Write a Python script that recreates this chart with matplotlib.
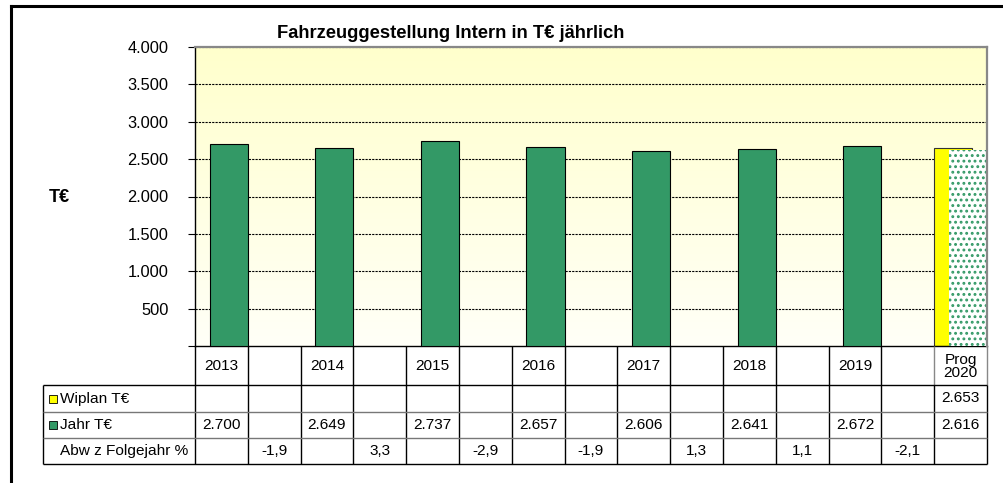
import numpy as np
import matplotlib
matplotlib.use("Agg")
import matplotlib.pyplot as plt
from matplotlib.lines import Line2D
from matplotlib.patches import Rectangle

plt.rcParams['font.family'] = ['Liberation Sans', 'DejaVu Sans']
plt.rcParams['hatch.linewidth'] = 1.3

# Daten: Jahre mit Zwischenspalten fuer die Abweichung
kategorien = ['2013', '', '2014', '', '2015', '', '2016', '', '2017', '', '2018', '', '2019', '', 'Prog\n2020']
wiplan = [None] * 14 + [2653]
jahr = [2700, None, 2649, None, 2737, None, 2657, None, 2606, None, 2641, None, 2672, None, 2616]
abw = [None, -1.9, None, 3.3, None, -2.9, None, -1.9, None, 1.3, None, 1.1, None, -2.1, None]
y_ticks = [0, 500, 1000, 1500, 2000, 2500, 3000, 3500, 4000]

GRUEN = '#339966'
GELB = '#FFFF00'


def de_int(v):
    return f"{v:,.0f}".replace(',', '.')


def de_dec(v):
    return f"{v:.1f}".replace('.', ',')


W, H = 1004, 483
fig = plt.figure(figsize=(W / 100, H / 100), dpi=100)

# Zeichenflaeche in Pixeln
px_l, px_r, px_t, px_b = 195, 987, 47, 346
ax = fig.add_axes([px_l / W, 1 - px_b / H, (px_r - px_l) / W, (px_b - px_t) / H])
n = len(kategorien)
ax.set_xlim(0, n)
ax.set_ylim(0, 4000)

# Hintergrund: Verlauf hellgelb -> weiss
grad = np.linspace(0, 1, 256).reshape(-1, 1)
farben = np.zeros((256, 1, 3))
farben[..., 0] = 1.0
farben[..., 1] = 1.0
farben[..., 2] = 0.80 + 0.17 * grad
ax.imshow(farben, extent=[0, n, 0, 4000], aspect='auto', origin='upper', zorder=0)

for y in y_ticks[1:]:
    ax.axhline(y, color='black', lw=0.8, ls=(0, (2, 1)), zorder=1)

# Balken
bw = 0.725
for i, v in enumerate(wiplan):
    if v is not None:
        ax.bar(i + 0.0, v, width=bw, align='edge', color=GELB, edgecolor='#333333', lw=0.8, zorder=2)
for i, v in enumerate(jahr):
    if v is None:
        continue
    if i == len(jahr) - 1:
        # Prognose gepunktet
        ax.bar(i + 0.275, v, width=bw, align='edge', color='white', edgecolor=GRUEN,
               hatch='...', lw=0, zorder=3)
    else:
        ax.bar(i + 0.275, v, width=bw, align='edge', color=GRUEN, edgecolor='black', lw=0.8, zorder=3)

ax.set_yticks(y_ticks)
ax.set_yticklabels([''] + [de_int(t) for t in y_ticks[1:]], fontsize=11.8)
ax.tick_params(axis='y', direction='out', length=5, width=0.8, pad=14)
ax.set_xticks([])
for s in ['top', 'right']:
    ax.spines[s].set_color('#888888')
    ax.spines[s].set_linewidth(1.6)
for s in ['left', 'bottom']:
    ax.spines[s].set_color('black')
    ax.spines[s].set_linewidth(1.0)
ax.spines['top'].set_zorder(5)
ax.spines['right'].set_zorder(5)

fig.text(451 / W, 1 - 33 / H, 'Fahrzeuggestellung Intern in T€ jährlich',
         ha='center', va='center', fontsize=13.2, fontweight='bold')
fig.text(59 / W, 1 - 198 / H, 'T€', ha='center', va='center', fontsize=13, fontweight='bold')

# Datentabelle unter dem Diagramm
zeilen = [0, 39, 66, 92, 118]
tab = fig.add_axes([px_l / W, 1 - (px_b + zeilen[-1]) / H, (px_r - px_l) / W, zeilen[-1] / H])
tab.set_xlim(0, n)
tab.set_ylim(zeilen[-1], 0)
tab.axis('off')
spalte = (px_r - px_l) / n
x_lab = -(px_l - 43) / spalte

kw = dict(clip_on=False, solid_capstyle='butt')
# senkrechte Linien
for i in range(n + 1):
    farbe_kopf = '#888888' if i >= n - 1 else 'black'
    tab.plot([i, i], [0, zeilen[1]], color=farbe_kopf, lw=1.0, **kw)
    tab.plot([i, i], [zeilen[1], zeilen[-1]], color='black', lw=1.0, **kw)
tab.plot([x_lab, x_lab], [zeilen[1], zeilen[-1]], color='black', lw=1.0, **kw)
# waagerechte Linien
tab.plot([x_lab, n], [zeilen[1], zeilen[1]], color='black', lw=1.0, **kw)
tab.plot([x_lab, n], [zeilen[2], zeilen[2]], color='#777777', lw=1.0, **kw)
tab.plot([x_lab, n], [zeilen[3], zeilen[3]], color='#777777', lw=1.0, **kw)
tab.plot([x_lab, n], [zeilen[4], zeilen[4]], color='black', lw=1.0, **kw)

fs = 11.1
for i, k in enumerate(kategorien):
    if k:
        tab.text(i + 0.5, (zeilen[0] + zeilen[1]) / 2 + 1, k, ha='center', va='center',
                 fontsize=fs, linespacing=0.95)
for r, werte, fmt in [(1, wiplan, de_int), (2, jahr, de_int), (3, abw, de_dec)]:
    ym = (zeilen[r] + zeilen[r + 1]) / 2
    for i, v in enumerate(werte):
        if v is not None:
            tab.text(i + 0.5, ym, fmt(v), ha='center', va='center', fontsize=fs)

# Zeilenbeschriftung mit Legendenfeldern
key = 8 / spalte
x_key = x_lab + 6 / spalte
x_txt = x_lab + 17 / spalte
for r, txt, farbe in [(1, 'Wiplan T€', GELB), (2, 'Jahr T€', GRUEN), (3, 'Abw z Folgejahr %', None)]:
    ym = (zeilen[r] + zeilen[r + 1]) / 2
    if farbe is not None:
        tab.add_patch(Rectangle((x_key, ym - 4), key, 8, facecolor=farbe, edgecolor='black',
                                lw=0.6, clip_on=False))
    tab.text(x_txt, ym, txt, ha='left', va='center', fontsize=fs)

# Rahmen um das gesamte Diagramm
fig.add_artist(Line2D([11.5 / W, 11.5 / W], [0, 1 - 6 / H], color='black', lw=2.2,
                      transform=fig.transFigure, solid_capstyle='projecting'))
fig.add_artist(Line2D([11.5 / W, 1], [1 - 6 / H, 1 - 6 / H], color='black', lw=2.2,
                      transform=fig.transFigure, solid_capstyle='projecting'))

fig.savefig('out.png', dpi=100)
